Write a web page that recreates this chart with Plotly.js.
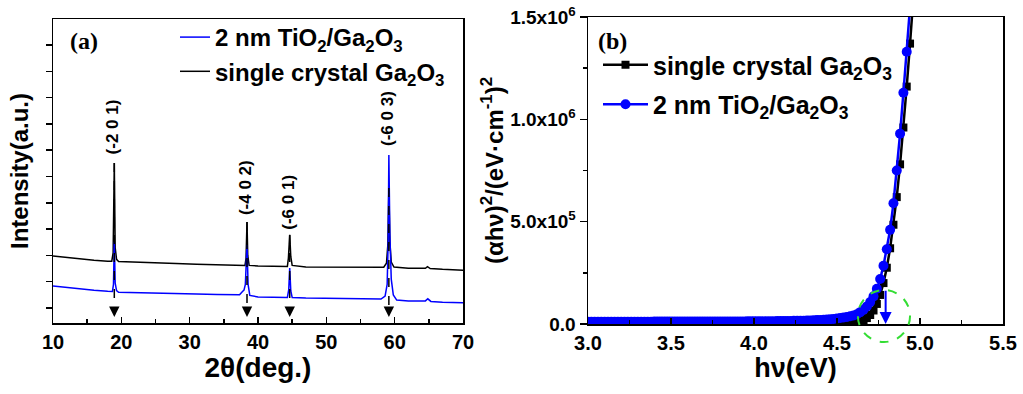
<!DOCTYPE html>
<html>
<head>
<meta charset="utf-8">
<script src="https://cdn.plot.ly/plotly-3.0.1.min.js"></script>
<style>html,body{margin:0;padding:0;background:#fff;}#chart{width:1023px;height:394px;}</style>
</head>
<body>
<div id="chart"></div>
<script>
// ---------- Panel (a): XRD ----------
const xrdBlackX = [10,12,14,16,18,18.6,18.8,18.97,19.1,19.3,19.6,22,25,28,31,34,37,38.1,38.25,38.39,38.5,38.7,40,42,44.3,44.45,44.64,44.8,45.0,47,50,53,56,58.4,58.8,59.0,59.15,59.3,59.5,59.9,62,64.5,64.8,65.2,67,70];
const xrdBlackY = [1.98,1.92,1.87,1.82,1.78,1.78,2.1,5.51,2.3,1.85,1.77,1.74,1.71,1.69,1.66,1.64,1.61,1.62,1.9,3.27,2.0,1.62,1.60,1.58,1.58,1.9,2.78,1.95,1.62,1.56,1.55,1.54,1.53,1.55,1.7,2.4,4.56,2.5,1.75,1.56,1.51,1.51,1.57,1.50,1.47,1.44];
const xrdBlueX = [10,12,14,16,18,18.7,18.85,18.97,19.1,19.3,19.6,22,25,28,31,34,36,37.3,37.7,37.95,38.15,38.39,38.55,38.8,40,42,44.3,44.5,44.64,44.8,45.0,47,50,53,56,58,58.6,58.9,59.05,59.15,59.3,59.5,59.8,60.3,62,64.5,64.85,65.3,67,70];
const xrdBlueY = [0.84,0.78,0.73,0.68,0.64,0.63,0.9,2.52,0.95,0.66,0.60,0.59,0.57,0.55,0.53,0.51,0.49,0.50,0.62,0.68,0.9,2.40,0.9,0.48,0.42,0.41,0.40,0.7,1.52,0.65,0.40,0.38,0.37,0.35,0.33,0.34,0.45,0.9,2.5,5.82,2.8,1.1,0.5,0.30,0.27,0.27,0.35,0.25,0.22,0.20];
const peakPos = [18.97, 38.39, 44.64, 59.15];
const peakTop = [5.51, 3.27, 2.78, 4.56];
const peakLabels = ['(-2 0 1)', '(-4 0 2)', '(-6 0 1)', '(-6 0 3)'];
const peakLabelY = [6.88, 4.56, 4.03, 7.22];
const arrowTipY = -0.34;

// ---------- Panel (b): Tauc plot ----------
const hvX = [3.00,3.02,3.04,3.06,3.08,3.10,3.12,3.14,3.16,3.18,3.20,3.22,3.24,3.26,3.28,3.30,3.32,3.34,3.36,3.38,
             3.40,3.42,3.44,3.46,3.48,3.50,3.52,3.54,3.56,3.58,3.60,3.62,3.64,3.66,3.68,3.70,3.72,3.74,3.76,3.78,
             3.80,3.82,3.84,3.86,3.88,3.90,3.92,3.94,3.96,3.98,4.00,4.02,4.04,4.06,4.08,4.10,4.12,4.14,4.16,4.18,
             4.20,4.22,4.24,4.26,4.28,4.30,4.32,4.34,4.36,4.38,
             4.40,4.42,4.44,4.46,4.48,4.50,4.52,4.54,4.56,4.58,4.60,4.62,4.64,4.66,4.68,4.70,4.72,4.74,4.76,4.78,
             4.80,4.82,4.84,4.86,4.88,4.90,4.92,4.94,4.96,4.98];
const taucBlack = [4000,4000,4000,4000,4000,4000,4000,4000,4000,4000,4000,4000,4000,4000,4000,4000,4000,4000,4000,4000,
                   4000,4000,4000,4000,4000,4000,4000,4000,4000,4000,4000,4000,4000,4000,4000,4000,4000,4000,4000,4000,
                   4000,4000,4000,4000,4000,4000,4000,4000,4000,4000,4000,4000,4000,4000,4000,4000,4000,4000,4000,4000,
                   4000,4000,4000,4000,4000,4000,4000,4000,4000,4000,
                   4200,4400,4600,4800,5000,5300,5600,6000,6600,7200,8000,10000,13000,19000,29000,44000,66000,98000,142000,200000,
                   275000,370000,485000,620000,780000,960000,1160000,1370000,1590000,1820000];
const taucBlue = [11000,11000,11050,11100,11100,11150,11200,11200,11250,11300,11300,11350,11400,11400,11450,11500,11500,11550,11600,11600,
                  11650,11700,11700,11750,11800,11800,11850,11900,11900,11950,12000,12000,12050,12100,12100,12150,12200,12250,12300,12350,
                  12400,12450,12500,12550,12600,12650,12700,12800,12900,13000,13100,13200,13300,13400,13500,13700,13900,14100,14300,14500,
                  14700,15000,15300,15600,16000,16400,16900,17500,18100,19000,
                  20000,21000,22000,23500,25000,27000,29000,31500,34000,37500,42000,48000,58000,70000,86000,107000,135000,172000,220000,285000,
                  365000,460000,590000,750000,930000,1130000,1330000,1530000,1750000,1970000];
const gapEnergy = 4.793;
const circleCenter = [4.783, 39000];
const circleRadius = [0.157, 127000];

const yTickVals = [0, 500000, 1000000, 1500000];
const yTickText = ['0.0', '5.0x10<sup>5</sup>', '1.0x10<sup>6</sup>', '1.5x10<sup>6</sup>'];

const nameCrystal = 'single crystal Ga<sub>2</sub>O<sub>3</sub>';
const nameTiO2 = '2 nm TiO<sub>2</sub>/Ga<sub>2</sub>O<sub>3</sub>';

// ---------- layout geometry ----------
const W = 1023, H = 394;
const domAx = [53/W, 463/W], domAy = [(H-323)/H, (H-19)/H];
const domBx = [588/W, 1003/W], domBy = [(H-324)/H, (H-17)/H];
const rangeAy = [-0.57, 10.99];
const rangeBx = [3.0, 5.5], rangeBy = [0, 1500000];

const SANS = 'Liberation Sans, Arial, sans-serif';
const SERIF = 'Liberation Serif, Times New Roman, serif';
const bold = (size, color) => ({family: SANS, size: size, weight: 'bold', color: color || '#000'});

const traces = [
  {x: xrdBlackX, y: xrdBlackY, xaxis: 'x', yaxis: 'y', type: 'scatter', mode: 'lines',
   line: {color: '#000000', width: 1.5}, name: nameCrystal, legend: 'legend', legendgroup: 'a1', legendrank: 2},
  {x: xrdBlueX, y: xrdBlueY, xaxis: 'x', yaxis: 'y', type: 'scatter', mode: 'lines',
   line: {color: '#0000ff', width: 1.5}, name: nameTiO2, legend: 'legend', legendgroup: 'a2', legendrank: 1},
  {x: hvX, y: taucBlack, xaxis: 'x2', yaxis: 'y2', type: 'scatter', mode: 'lines+markers',
   line: {color: '#000000', width: 2.5}, marker: {symbol: 'square', size: 8, color: '#000000'},
   name: nameCrystal, legend: 'legend2', legendgroup: 'b1', legendrank: 1},
  {x: hvX, y: taucBlue, xaxis: 'x2', yaxis: 'y2', type: 'scatter', mode: 'lines+markers',
   line: {color: '#0000ff', width: 2.5}, marker: {symbol: 'circle', size: 10, color: '#0000ff'},
   name: nameTiO2, legend: 'legend2', legendgroup: 'b2', legendrank: 2}
];

const shapes = [];
const annotations = [];
peakPos.forEach((p, i) => {
  shapes.push({type: 'line', xref: 'x', yref: 'y', x0: p, x1: p, y0: peakTop[i], y1: arrowTipY + 0.25,
               line: {color: '#000', width: 1.5, dash: 'dash'}, layer: 'above'});
  annotations.push({x: p, y: arrowTipY, xref: 'x', yref: 'y', ax: p, ay: arrowTipY + 0.3, axref: 'x', ayref: 'y',
                    showarrow: true, arrowhead: 2, arrowsize: 1.3, arrowwidth: 1.6, arrowcolor: '#000', text: ''});
  annotations.push({x: p, y: peakLabelY[i], xref: 'x', yref: 'y', text: peakLabels[i], showarrow: false,
                    xanchor: 'center', yanchor: 'middle', textangle: -90, xshift: -2, font: bold(17)});
});

// green dashed circle (converted from data units of panel b to paper so it is not clipped)
const px2 = v => domBx[0] + (v - rangeBx[0]) / (rangeBx[1] - rangeBx[0]) * (domBx[1] - domBx[0]);
const py2 = v => domBy[0] + (v - rangeBy[0]) / (rangeBy[1] - rangeBy[0]) * (domBy[1] - domBy[0]);
shapes.push({type: 'circle', xref: 'paper', yref: 'paper',
  x0: px2(circleCenter[0] - circleRadius[0]), x1: px2(circleCenter[0] + circleRadius[0]),
  y0: py2(circleCenter[1] - circleRadius[1]), y1: py2(circleCenter[1] + circleRadius[1]),
  line: {color: '#33dd33', width: 2, dash: 'dash'}, layer: 'above'});

annotations.push({x: gapEnergy, y: 0, xref: 'x2', yref: 'y2', ax: gapEnergy, ay: 170000, axref: 'x2', ayref: 'y2',
  showarrow: true, arrowhead: 2, arrowsize: 1.2, arrowwidth: 2, arrowcolor: '#0000ff', text: ''});

annotations.push({x: 84/W, y: (H-41)/H, xref: 'paper', yref: 'paper', text: '(a)', showarrow: false,
  xanchor: 'center', yanchor: 'middle', font: {family: SERIF, size: 24, weight: 'bold', color: '#000'}});
annotations.push({x: 612/W, y: (H-41)/H, xref: 'paper', yref: 'paper', text: '(b)', showarrow: false,
  xanchor: 'center', yanchor: 'middle', font: {family: SERIF, size: 24, weight: 'bold', color: '#000'}});

const axisCommon = {showline: true, linecolor: '#000', linewidth: 1.5, mirror: true, showgrid: false, zeroline: false,
  tickcolor: '#000', tickwidth: 1.5};

const layout = {
  width: W, height: H,
  margin: {l: 0, r: 0, t: 0, b: 0},
  paper_bgcolor: '#fff', plot_bgcolor: '#fff',
  showlegend: true,
  xaxis: Object.assign({}, axisCommon, {domain: domAx, anchor: 'y', range: [10, 70], tickmode: 'linear', tick0: 10, dtick: 10,
    ticks: 'inside', ticklen: 6, tickfont: bold(20),
    minor: {ticks: 'inside', ticklen: 4, dtick: 5, tick0: 10, tickwidth: 1.5, tickcolor: '#000'},
    title: {text: '2θ(deg.)', font: bold(28), standoff: 0}}),
  yaxis: Object.assign({}, axisCommon, {domain: domAy, anchor: 'x', range: rangeAy, tickmode: 'linear', tick0: 0, dtick: 1,
    ticks: 'outside', ticklen: 6, showticklabels: false,
    title: {text: 'Intensity(a.u.)', font: bold(24), standoff: 10}}),
  xaxis2: Object.assign({}, axisCommon, {domain: domBx, anchor: 'y2', range: rangeBx, tickmode: 'linear', tick0: 3, dtick: 0.5,
    tickformat: '.1f', ticks: 'inside', ticklen: 6, tickfont: bold(20),
    minor: {ticks: 'inside', ticklen: 4, dtick: 0.25, tick0: 3, tickwidth: 1.5, tickcolor: '#000'},
    title: {text: 'hν(eV)', font: bold(27), standoff: 0}}),
  yaxis2: Object.assign({}, axisCommon, {domain: domBy, anchor: 'x2', range: rangeBy, tickmode: 'array',
    tickvals: yTickVals, ticktext: yTickText, ticks: 'outside', ticklen: 7, tickfont: bold(19),
    minor: {ticks: 'outside', ticklen: 4, tickmode: 'linear', tick0: 0, dtick: 250000, tickwidth: 1.5, tickcolor: '#000'},
    title: {text: '(αhν)<sup>2</sup>/(eV·cm<sup>-1</sup>)<sup>2</sup>', font: bold(24), standoff: 0}}),
  legend: {x: 175/W, y: (H-15)/H, xanchor: 'left', yanchor: 'top', bgcolor: 'rgba(0,0,0,0)',
    font: bold(24), traceorder: 'grouped', tracegroupgap: 0, itemwidth: 30},
  legend2: {x: 598/W, y: (H-42)/H, xanchor: 'left', yanchor: 'top', bgcolor: 'rgba(0,0,0,0)',
    font: bold(25), traceorder: 'grouped', tracegroupgap: 4, itemwidth: 45},
  shapes: shapes,
  annotations: annotations
};

Plotly.newPlot('chart', traces, layout, {staticPlot: true, displayModeBar: false});
</script>
</body>
</html>
